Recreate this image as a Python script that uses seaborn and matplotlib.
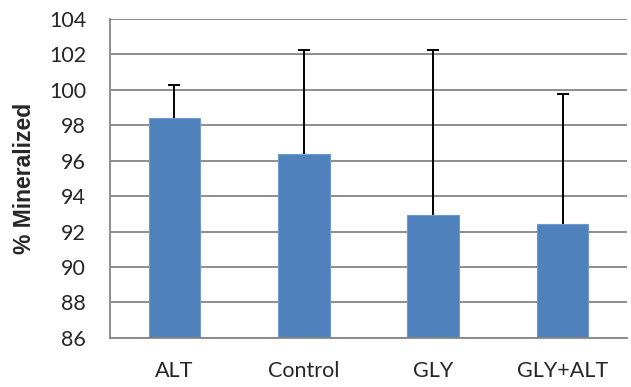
import numpy as np
import pandas as pd
import matplotlib
matplotlib.use('Agg')
import matplotlib.pyplot as plt
import seaborn as sns

groups = ['ALT', 'Control', 'GLY', 'GLY+ALT']
mineralized = [98.4, 96.4, 92.95, 92.4]
err_up = [1.9, 5.85, 9.3, 7.35]

df = pd.DataFrame({'group': groups, 'value': mineralized})

sns.set_style('white')
plt.rcParams['font.family'] = ['Lato', 'DejaVu Sans']

fig = plt.figure(figsize=(6.31, 3.87), dpi=100)
ax = fig.add_axes([0.174, 0.127, 0.82, 0.824])

ax.yaxis.grid(True, color='#868686', linewidth=1.3)
ax.set_axisbelow(True)

sns.barplot(data=df, x='group', y='value', color='#4F81BD', saturation=1,
            width=0.4, edgecolor='#6f9ad0', linewidth=0.8, ax=ax)
eb = ax.errorbar(range(len(groups)), mineralized,
                 yerr=[np.zeros(len(groups)), err_up],
                 fmt='none', ecolor='black', elinewidth=1.4, capsize=4.5, capthick=1.4)
# only the upper cap is drawn in the reference
eb[1][0].set_visible(False)

ax.set_ylim(86, 104)
ax.set_yticks(np.arange(86, 105, 2))
ax.set_xlim(-0.5, 3.5)
ax.set_xticks([-0.5, 0.5, 1.5, 2.5, 3.5], minor=True)
ax.tick_params(axis='x', which='major', length=0, pad=17, labelsize=15.5)
ax.tick_params(axis='x', which='minor', length=6, width=1.3, color='#868686', direction='out')
ax.tick_params(axis='y', length=6, width=1.3, color='#868686', direction='out', pad=11, labelsize=15.5)

for s in ['top', 'right']:
    ax.spines[s].set_visible(False)
for s in ['left', 'bottom']:
    ax.spines[s].set_color('#868686')
    ax.spines[s].set_linewidth(1.3)

ax.set_xlabel('')
ax.set_ylabel('% Mineralized', fontsize=16.5, fontweight='bold',
              family=['Liberation Sans', 'DejaVu Sans'], labelpad=9)

fig.savefig('out.png', dpi=100)
